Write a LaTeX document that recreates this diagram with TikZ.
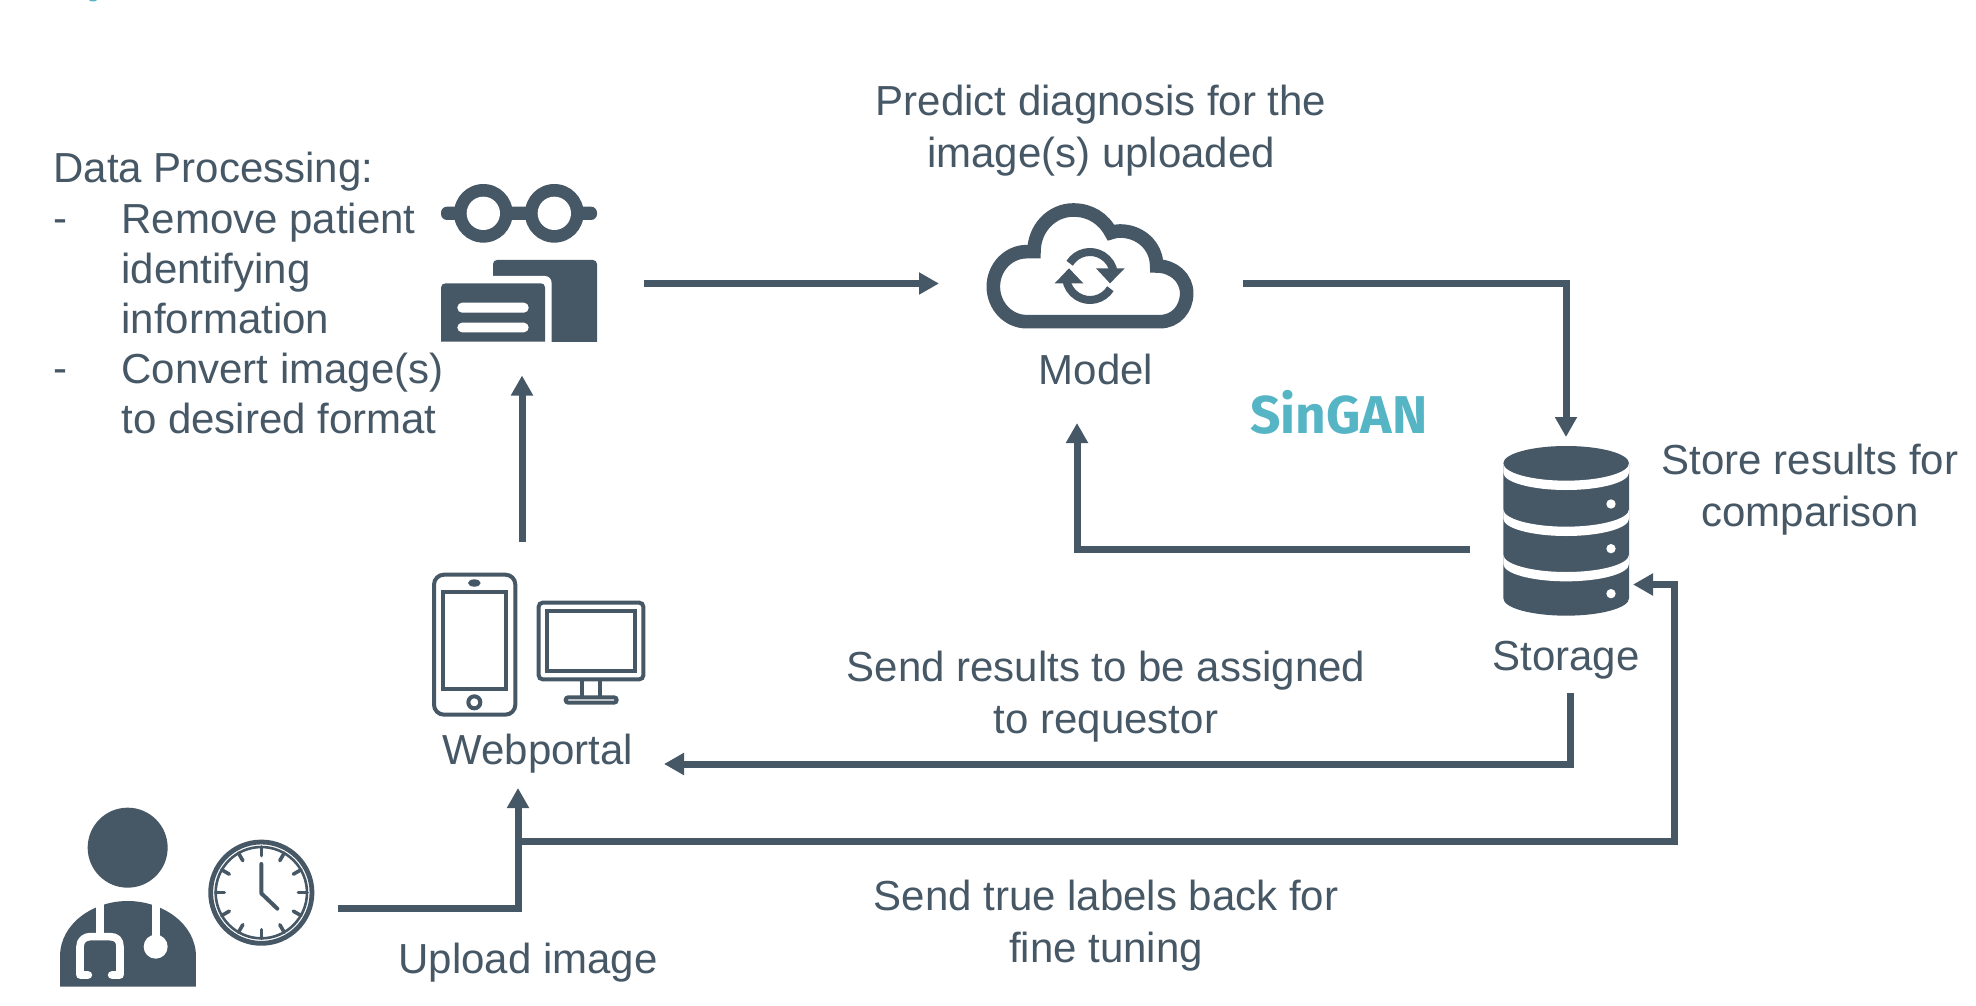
\documentclass[tikz,border=0pt]{standalone}
\usepackage{fontspec}
\setmainfont{Liberation Sans}
\newfontfamily\logofont{Fira Sans}
\usetikzlibrary{arrows.meta}
\definecolor{ink}{HTML}{465765}
\definecolor{teal1}{HTML}{55B5C5}
\tikzset{
  flow/.style={draw=ink,line width=3.5pt,-{Triangle[length=10pt,width=10.5pt]}},
  lab/.style={text=ink,font=\fontsize{21}{26}\selectfont,align=center,inner sep=0pt},
  leftlab/.style={text=ink,font=\fontsize{21}{25}\selectfont,align=left,inner sep=0pt,anchor=north west},
  thin ink/.style={draw=ink,line width=2pt},
  icon/.style={fill=ink,draw=none},
  blank/.style={fill=white,draw=none},
  zoomA/.style={shift={#1},scale=0.33333},
}
\begin{document}
\begin{tikzpicture}[x=0.5pt,y=-0.5pt]
\useasboundingbox[fill=white] (0,0) rectangle (1976,1006);
\fill[teal1] (93,0) ellipse[x radius=4,y radius=1.5];

% ---- glasses and documents
\begin{scope}[zoomA={(400,150)}]
  \path[icon,rounded corners=3pt] (123,170) rectangle (591,210);
  \path[icon] (250,190) circle[radius=88] (463,190) circle[radius=88];
  \path[blank] (250,190) circle[radius=50] (463,190) circle[radius=50];
  \path[icon,rounded corners=2pt] (279,575) -- (279,330) -- (591,330) -- (591,575);
  \path[icon] (279,360) rectangle (591,575);
  \path[blank] (270,378) -- (435,378) .. controls (447,378) and (455,388) .. (455,400) -- (455,580) -- (270,580) -- cycle;
  \path[icon] (123,575) -- (123,412) .. controls (123,404) and (130,400) .. (137,400) -- (420,400) .. controls (430,400) and (435,405) .. (435,412) -- (435,575) -- cycle;
  \path[blank,rounded corners=2.4pt] (172,458) rectangle (386,488);
  \path[blank,rounded corners=2.4pt] (172,518) rectangle (386,547);
\end{scope}

% ---- cloud
\begin{scope}[zoomA={(960,180)}]
  \draw[ink,line width=6.8pt,line join=miter] (200,425) -- (600,425)
    .. controls (647,425) and (680,387) .. (680,340)
    .. controls (680,293) and (640,258) .. (590,258)
    .. controls (590,197) and (540,153) .. (480,153)
    .. controls (470,153) and (460,155) .. (453,158)
    .. controls (430,115) and (390,90) .. (340,90)
    .. controls (275,90) and (222,145) .. (222,215)
    .. controls (215,215) and (208,215) .. (200,215)
    .. controls (145,215) and (100,262) .. (100,320)
    .. controls (100,378) and (145,425) .. (200,425) -- cycle;
  \draw[ink,line width=4pt] (390,288) ++(-148:72) arc[start angle=-148,end angle=-8,radius=72];
  \draw[ink,line width=4pt] (390,288) ++(32:72) arc[start angle=32,end angle=172,radius=72];
  \path[icon] (408,265) -- (494,265) -- (450,310) -- cycle;
  \path[icon] (284,310) -- (370,310) -- (327,265) -- cycle;
\end{scope}

% ---- database
\begin{scope}[zoomA={(1480,430)}]
  \path[icon] (70,100) -- (70,505) arc[start angle=180,end angle=0,x radius=188.5,y radius=52]
     -- (447,100) arc[start angle=0,end angle=-180,x radius=188.5,y radius=52] -- cycle;
  \foreach \yy in {100,238,374}
    \path[blank] (70,\yy) arc[start angle=180,end angle=0,x radius=188.5,y radius=52]
       -- (447,\yy+28) arc[start angle=0,end angle=180,x radius=188.5,y radius=52] -- cycle;
  \foreach \yy in {222,356,491}
    \path[blank] (393,\yy) circle[radius=14];
\end{scope}

% ---- phone and monitor
\begin{scope}[zoomA={(420,560)}]
  \draw[thin ink,rounded corners=5pt] (42,44) rectangle (286,464);
  \draw[thin ink] (68,96) rectangle (259,386);
  \path[icon] (163,69) ellipse[x radius=19,y radius=11];
  \draw[thin ink] (163,427) circle[radius=18];
  \draw[thin ink,rounded corners=2pt] (356,128) rectangle (670,358);
  \draw[thin ink] (381,153) rectangle (645,333);
  \draw[thin ink] (485,358) -- (485,412) (540,358) -- (540,412);
  \draw[thin ink,rounded corners=1.3pt] (437,412) rectangle (590,428);
\end{scope}

% ---- doctor
\begin{scope}[zoomA={(40,790)}]
  \path[icon] (263,173) circle[radius=120];
  \path[icon] (60,590) -- (60,500) .. controls (60,400) and (160,333) .. (263,333)
     .. controls (366,333) and (468,400) .. (468,500) -- (468,590) -- cycle;
  \draw[white,line width=4pt] (180,320) -- (180,440);
  \draw[white,line width=4pt] (347,320) -- (347,450);
  \draw[white,line width=3.8pt,line cap=round,line join=round] (145,555) -- (120,555) -- (120,470)
     .. controls (120,450) and (135,440) .. (150,440) -- (210,440)
     .. controls (230,440) and (240,450) .. (240,470) -- (240,555) -- (215,555);
  \path[blank] (347,470) circle[radius=36];
  % clock
  \draw[ink,line width=2.4pt] (664,308) circle[radius=152];
  \draw[ink,line width=1.3pt] (664,308) circle[radius=137];
  \foreach \a in {0,30,...,330}
    \draw[ink,line width=1.8pt,line cap=round] (664,308) ++(\a:137) -- ++(\a:-26);
  \draw[ink,line width=2pt,line cap=round,line join=round] (664,222) -- (664,310) -- (712,356);
\end{scope}

% ---- named end points of the connectors
\coordinate (docOut) at (338,908);
\coordinate (portalIn) at (518,788);
\coordinate (fork) at (518,841);
\coordinate (tuneCorner) at (1674,841);
\coordinate (storeIn) at (1633,584.5);
\coordinate (storeOut) at (1570,693);
\coordinate (portalBack) at (664,764);
\coordinate (portalOut) at (522,542);
\coordinate (procIn) at (522,375.5);
\coordinate (procOut) at (644,283.5);
\coordinate (modelIn) at (939,283.5);
\coordinate (modelOut) at (1243,283.5);
\coordinate (storeTop) at (1566,437);
\coordinate (storeBack) at (1470,549);
\coordinate (modelBack) at (1077,423);

% ---- connectors
\draw[flow] (docOut) -| (portalIn);
\draw[flow] (fork) -- (tuneCorner) |- (storeIn);
\draw[flow] (storeOut) |- (portalBack);
\draw[flow] (portalOut) -- (procIn);
\draw[flow] (procOut) -- (modelIn);
\draw[flow] (modelOut) -| (storeTop);
\draw[flow] (storeBack) -| (modelBack);

% ---- labels
\node[lab] (predict) at (1101,130.5) {Predict diagnosis for the\\image(s) uploaded};
\node[lab] (model) at (1096,369) {Model};
\node[lab] (storelab) at (1810,490) {Store results for\\comparison};
\node[lab] (storage) at (1566,660) {Storage};
\node[lab] (portal) at (538,754) {Webportal};
\node[lab] (sendres) at (1106,697) {Send results to be assigned\\to requestor};
\node[lab] (sendtrue) at (1106,926) {Send true labels back for\\fine tuning};
\node[lab] (upload) at (528,963) {Upload image};
\node[leftlab] (dp) at (53,152) {Data Processing:};
\node[leftlab] (d1) at (53,203) {\vphantom{R}-};
\node[leftlab] (i1) at (121,203) {Remove patient\\identifying\\information};
\node[leftlab] (d2) at (53,353) {\vphantom{R}-};
\node[leftlab] (i2) at (121,353) {Convert image(s)\\to desired format};
\node[text=teal1,inner sep=0pt,font=\logofont\bfseries\fontsize{26.6}{30}\selectfont] (logo) at (1339,412) {SinGAN};
\end{tikzpicture}
\end{document}
